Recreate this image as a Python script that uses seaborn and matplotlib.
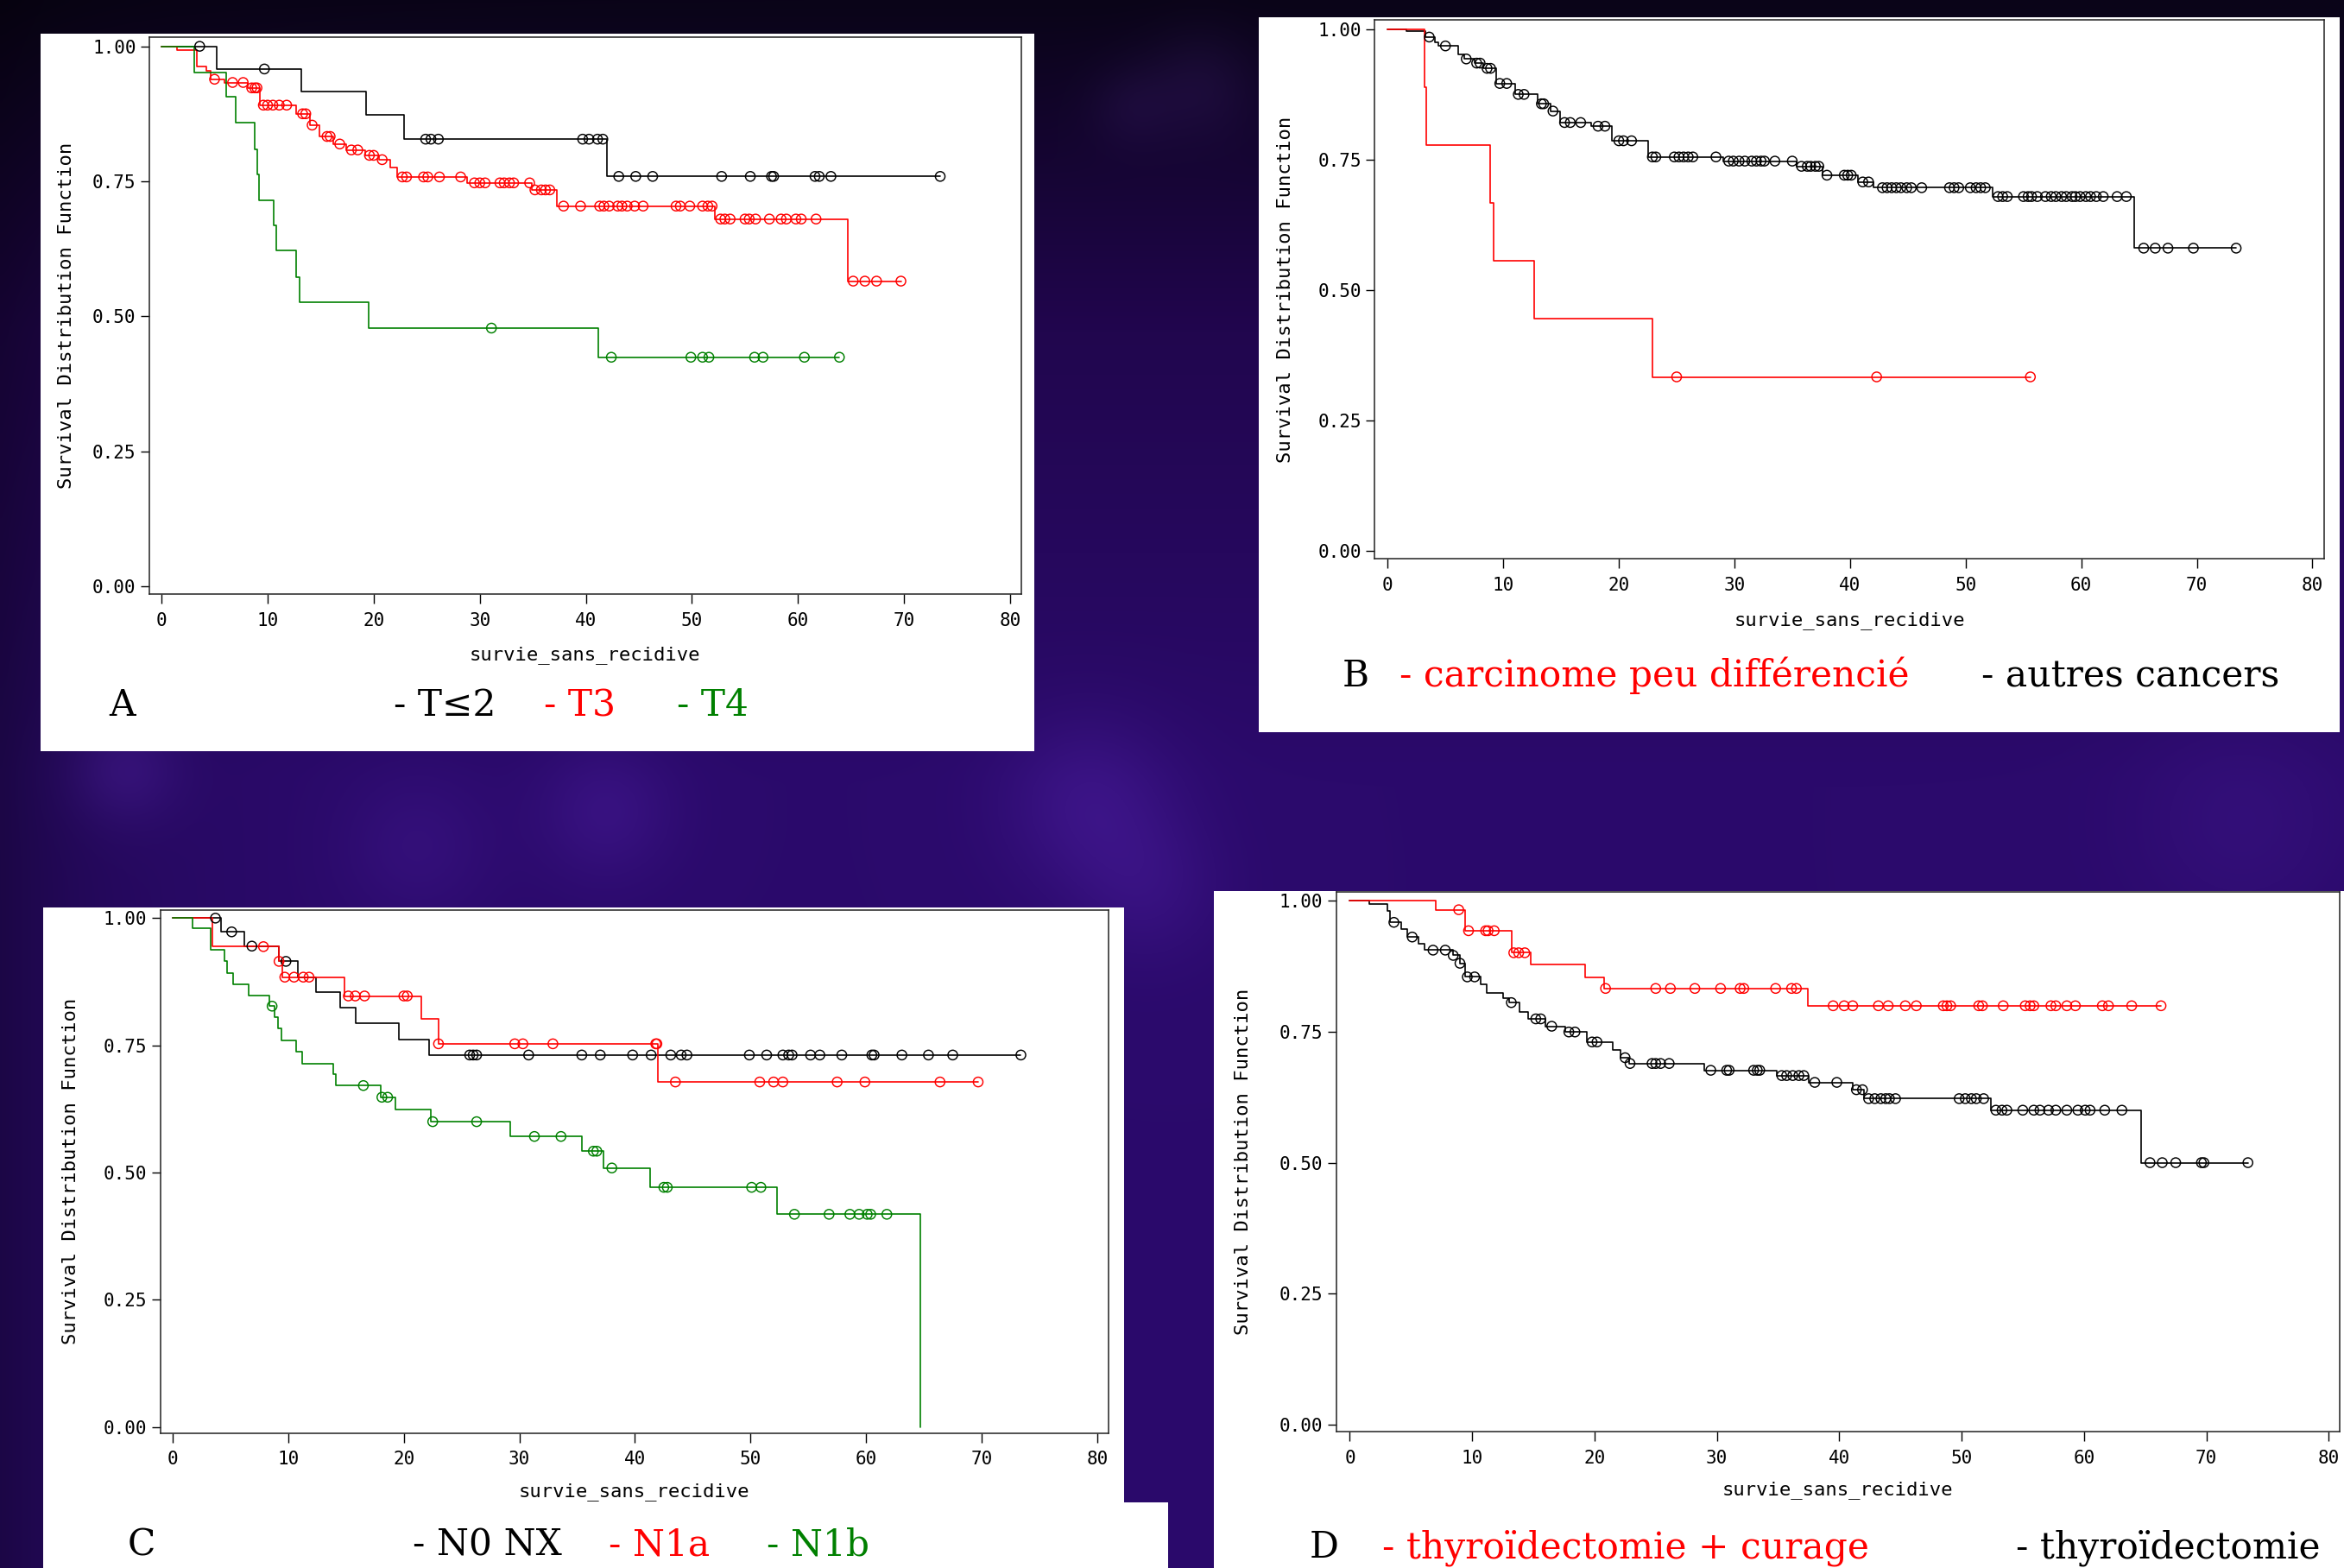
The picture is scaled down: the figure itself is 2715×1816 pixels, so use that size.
"""Four Kaplan-Meier panels (SAS style) on a purple slide background."""

import matplotlib
matplotlib.use("Agg")
import matplotlib.pyplot as plt
import numpy as np
import pandas as pd
import seaborn as sns
from matplotlib.patches import Rectangle

# === DATA ===
X_TICKS = [0, 10, 20, 30, 40, 50, 60, 70, 80]
Y_TICKS = [0.0, 0.25, 0.5, 0.75, 1.0]
Y_TICK_LABELS = ["0.00", "0.25", "0.50", "0.75", "1.00"]
X_LABEL = "survie_sans_recidive"
Y_LABEL = "Survival Distribution Function"

# Panel A: T stage
A_T2_TIMES = [5.2, 13.2, 19.3, 22.9, 42.0]
A_T2_SURV = [0.958, 0.917, 0.873, 0.828, 0.759]
A_T2_CENS = [3.6, 9.7, 24.9, 25.4, 26.1, 39.7, 40.3, 41.1, 41.6, 43.1, 44.7, 46.3,
             52.8, 55.5, 57.5, 57.7, 61.6, 62.0, 63.1, 73.4]

A_T3_TIMES = [1.5, 3.3, 4.25, 4.6, 5.9, 8.1, 9.3, 12.7, 14.0, 14.9, 16.2, 17.4, 19.2,
              20.5, 21.6, 22.2, 28.8, 34.9, 37.3, 52.2, 64.7]
A_T3_SURV = [0.993, 0.963, 0.955, 0.939, 0.933, 0.923, 0.891, 0.875, 0.854, 0.833, 0.819,
             0.808, 0.798, 0.790, 0.775, 0.758, 0.747, 0.734, 0.704, 0.680, 0.565]
A_T3_CENS = [5.0, 6.7, 7.7, 8.5, 8.8, 9.0, 9.6, 10.0, 10.5, 11.1, 11.8, 13.3, 13.6, 14.2,
             15.6, 15.9, 16.8, 17.9, 18.5, 19.6, 20.0, 20.8, 22.7, 23.1, 24.7, 25.1, 26.2,
             28.2, 29.5, 30.0, 30.5, 31.9, 32.3, 32.8, 33.2, 34.7, 35.2, 35.8, 36.2, 36.6,
             37.9, 39.5, 41.3, 41.7, 42.2, 43.0, 43.4, 43.9, 44.6, 45.4, 48.5, 48.9, 49.8,
             51.0, 51.5, 51.9, 52.7, 53.1, 53.6, 55.0, 55.4, 56.0, 57.3, 58.4, 58.9, 59.8,
             60.3, 61.7, 65.2, 66.3, 67.4, 69.7]

A_T4_TIMES = [3.1, 6.1, 7.0, 8.8, 9.0, 9.2, 10.6, 10.8, 12.7, 13.0, 19.5, 41.2]
A_T4_SURV = [0.952, 0.906, 0.859, 0.809, 0.762, 0.715, 0.669, 0.622, 0.572, 0.526, 0.478, 0.424]
A_T4_CENS = [31.1, 42.4, 49.9, 51.0, 51.6, 55.9, 56.7, 60.6, 63.9]

# Panel B: histology
B_PD_TIMES = [3.2, 3.35, 8.9, 9.2, 12.7, 22.9]
B_PD_SURV = [0.889, 0.778, 0.667, 0.556, 0.444, 0.333]
B_PD_CENS = [25.0, 42.3, 55.6]

B_OTHER_TIMES = [1.6, 3.3, 4.1, 4.4, 6.1, 6.6, 7.5, 8.3, 9.4, 11.0, 13.0, 14.1, 14.9, 17.6,
                 19.4, 22.5, 29.0, 35.4, 37.6, 40.7, 42.0, 52.3, 64.6]
B_OTHER_SURV = [0.997, 0.985, 0.975, 0.968, 0.951, 0.943, 0.935, 0.925, 0.896, 0.875, 0.857,
                0.843, 0.821, 0.814, 0.786, 0.755, 0.747, 0.737, 0.720, 0.707, 0.696, 0.679,
                0.580]
B_OTHER_CENS = [3.6, 5.0, 6.8, 7.7, 8.0, 8.6, 8.9, 9.7, 10.3, 11.3, 11.8, 13.3, 13.5, 14.3,
                15.3, 15.8, 16.7, 18.2, 18.8, 20.0, 20.4, 21.1, 22.9, 23.2, 24.8, 25.2, 25.6,
                26.0, 26.4, 28.4, 29.5, 29.9, 30.4, 30.9, 31.5, 31.9, 32.3, 32.6, 33.5, 35.0,
                35.8, 36.3, 36.6, 37.0, 37.3, 38.0, 39.5, 39.8, 40.1, 41.1, 41.6, 42.8, 43.2,
                43.6, 44.0, 44.4, 44.9, 45.3, 46.2, 48.6, 49.0, 49.4, 50.4, 50.9, 51.3, 51.7,
                52.8, 53.2, 53.6, 55.0, 55.4, 55.7, 56.2, 56.9, 57.4, 57.8, 58.3, 58.7, 59.2,
                59.5, 59.9, 60.4, 60.8, 61.3, 61.9, 63.1, 63.9, 65.4, 66.4, 67.5, 69.7, 73.4]

# Panel C: N stage
C_N0_TIMES = [4.2, 6.2, 9.2, 10.8, 12.4, 14.5, 15.8, 19.6, 22.2]
C_N0_SURV = [0.973, 0.945, 0.915, 0.884, 0.854, 0.824, 0.794, 0.762, 0.731]
C_N0_CENS = [3.7, 5.1, 6.85, 9.8, 25.7, 26.0, 26.3, 30.8, 35.4, 37.0, 39.8, 41.4, 43.1,
             44.0, 44.5, 49.9, 51.4, 52.8, 53.3, 53.6, 55.2, 56.0, 57.9, 60.5, 60.7, 63.1,
             65.4, 67.5, 73.4]

C_N1A_TIMES = [3.4, 9.2, 9.5, 14.9, 21.5, 23.0, 42.0]
C_N1A_SURV = [0.944, 0.915, 0.884, 0.847, 0.802, 0.753, 0.678]
C_N1A_CENS = [7.85, 9.2, 9.7, 10.5, 11.3, 11.8, 15.2, 15.8, 16.6, 20.0, 20.3, 23.0, 29.6,
              30.3, 32.9, 41.8, 41.9, 43.5, 50.8, 52.0, 52.8, 57.5, 59.9, 66.4, 69.7]

C_N1B_TIMES = [1.7, 3.3, 4.5, 4.7, 5.2, 6.6, 8.4, 8.8, 9.1, 9.4, 10.7, 11.2, 13.9, 14.1,
               18.0, 19.3, 22.3, 29.2, 35.4, 37.3, 41.3, 52.3, 64.7]
C_N1B_SURV = [0.981, 0.938, 0.915, 0.892, 0.870, 0.848, 0.827, 0.805, 0.783, 0.760, 0.737,
              0.714, 0.693, 0.671, 0.648, 0.624, 0.600, 0.571, 0.542, 0.509, 0.471, 0.418, 0.0]
C_N1B_CENS = [8.6, 16.5, 18.1, 18.6, 22.5, 26.3, 31.3, 33.6, 36.4, 36.7, 38.0, 42.5, 42.8,
              50.1, 50.9, 53.8, 56.8, 58.6, 59.4, 60.1, 60.4, 61.8]

# Panel D: surgery
D_CUR_TIMES = [7.0, 9.4, 13.2, 14.8, 19.2, 20.8, 37.4]
D_CUR_SURV = [0.982, 0.942, 0.900, 0.878, 0.853, 0.832, 0.799]
D_CUR_CENS = [8.9, 9.7, 11.1, 11.3, 11.8, 13.4, 13.8, 14.3, 20.9, 25.0, 26.2, 28.2, 30.3,
              31.9, 32.2, 34.8, 36.1, 36.5, 39.5, 40.4, 41.1, 43.2, 44.0, 45.4, 46.3, 48.5,
              48.8, 49.1, 51.4, 51.7, 53.4, 55.2, 55.6, 55.9, 57.3, 57.7, 58.6, 59.3, 61.5,
              62.0, 63.9, 66.3]

D_THY_TIMES = [1.6, 3.1, 3.3, 4.2, 4.7, 5.6, 6.1, 8.4, 9.0, 9.4, 10.7, 11.2, 12.5, 13.0,
               13.9, 14.6, 16.0, 17.6, 19.4, 21.5, 22.1, 22.8, 29.0, 34.9, 37.5, 41.1, 42.0,
               52.4, 64.7]
D_THY_SURV = [0.993, 0.980, 0.958, 0.945, 0.930, 0.918, 0.905, 0.895, 0.880, 0.854, 0.840,
              0.823, 0.814, 0.805, 0.788, 0.774, 0.760, 0.749, 0.730, 0.715, 0.700, 0.689,
              0.676, 0.666, 0.653, 0.639, 0.622, 0.600, 0.500]
D_THY_CENS = [3.6, 5.1, 6.8, 7.8, 8.45, 9.0, 9.6, 10.2, 13.2, 15.2, 15.6, 16.5, 17.9, 18.4,
              19.8, 20.2, 22.5, 22.9, 24.7, 25.0, 25.4, 26.1, 29.5, 30.8, 31.0, 33.0, 33.3,
              33.5, 35.3, 35.7, 36.2, 36.7, 37.1, 38.0, 39.8, 41.4, 41.9, 42.4, 42.9, 43.4,
              43.8, 44.1, 44.6, 49.8, 50.3, 50.8, 51.2, 51.8, 52.8, 53.3, 53.7, 55.0, 55.9,
              56.4, 57.1, 57.7, 58.6, 59.5, 60.1, 60.5, 61.7, 63.1, 65.4, 66.4, 67.5, 69.6,
              69.8, 73.4]

PANEL_LETTERS = ["A", "B", "C", "D"]
A_LABELS = ["- T≤2", "- T3", "- T4"]
B_LABELS = ["- carcinome peu différencié", "- autres cancers"]
C_LABELS = ["- N0 NX", "- N1a", "- N1b"]
D_LABELS = ["- thyroïdectomie + curage", "- thyroïdectomie"]

# === STYLE / LAYOUT ===
W, H = 2715, 1816
BLACK, RED, GREEN = "#000000", "#ff0000", "#008000"
SAS_FONT = "DejaVu Sans Mono"
SLIDE_FONT = "DejaVu Serif"

sns.set_theme(style="ticks")
plt.rcParams["font.family"] = [SAS_FONT, "DejaVu Sans"]


def km_table(times, surv, cens):
    """Step-curve points: start at (0, 1), extend flat to the last censored time."""
    t = [0.0] + list(times)
    s = [1.0] + list(surv)
    end = max(cens) if len(cens) else times[-1]
    if end > times[-1]:
        t.append(end)
        s.append(surv[-1])
    return pd.DataFrame({"t": t, "s": s})


def censor_table(times, surv, cens):
    """Censor marks sit on the survival level in force at that time."""
    idx = np.searchsorted(np.asarray(times), np.asarray(cens), side="right") - 1
    level = np.where(idx >= 0, np.asarray(surv)[np.clip(idx, 0, None)], 1.0)
    return pd.DataFrame({"t": cens, "s": level})


def background():
    h, w = 230, 344
    yy, xx = np.mgrid[0:h, 0:w].astype(float)
    ypx = yy / (h - 1) * H
    xpx = xx / (w - 1) * W
    top = np.array([10, 4, 24]) / 255
    mid = np.array([33, 6, 78]) / 255
    base = np.array([43, 10, 108]) / 255
    f1 = np.clip(ypx / 380, 0, 1)[..., None]
    f2 = np.clip((ypx - 380) / 520, 0, 1)[..., None]
    img = top + (mid - top) * f1 + (base - mid) * f2
    img = img * (1 - 0.35 * np.exp(-xpx / 140)[..., None])
    glows = [(1260, 930, 70, 0.6), (140, 890, 45, 0.6), (700, 940, 55, 0.5),
             (1390, 95, 45, 0.45), (1310, 120, 35, 0.35), (2600, 950, 90, 0.3),
             (1330, 1030, 60, 0.4), (480, 980, 60, 0.35)]
    for cx, cy, r, a in glows:
        g = np.exp(-((xpx - cx) ** 2 + (ypx - cy) ** 2) / (2 * r * r))[..., None]
        img = img + g * a * np.array([0.10, 0.06, 0.16])
    return np.clip(img, 0, 1)


def draw_panel(fig, frame, xlim, ylim, curves, ylab_off, xlab_off):
    left, top, right, bottom = frame
    ax = fig.add_axes([left / W, 1 - bottom / H, (right - left) / W, (bottom - top) / H])
    ax.set_facecolor("white")
    for times, surv, cens, color in curves:
        sns.lineplot(data=km_table(times, surv, cens), x="t", y="s", ax=ax, color=color,
                     linewidth=1.2, drawstyle="steps-post", estimator=None, sort=False,
                     legend=False)
        sns.scatterplot(data=censor_table(times, surv, cens), x="t", y="s", ax=ax,
                        marker="o", s=64, color=color, facecolor="none", edgecolor=color,
                        linewidth=1.05, legend=False, zorder=3)
    ax.set_xlim(*xlim)
    ax.set_ylim(*ylim)
    ax.set_xticks(X_TICKS)
    ax.set_yticks(Y_TICKS)
    ax.set_yticklabels(Y_TICK_LABELS)
    ax.set_xlabel("")
    ax.set_ylabel("")
    ax.tick_params(axis="x", direction="out", length=8, width=1, pad=7, labelsize=15,
                   colors="black")
    ax.tick_params(axis="y", direction="out", length=7, width=1, pad=4, labelsize=15,
                   colors="black")
    for spine in ax.spines.values():
        spine.set_visible(True)
        spine.set_color("#222222")
        spine.set_linewidth(1.1)
    width_px, height_px = right - left, bottom - top
    ax.text(-ylab_off / width_px, 0.5, Y_LABEL, transform=ax.transAxes, rotation=90,
            ha="center", va="center", fontsize=16, color="black")
    ax.text(0.5, -xlab_off / height_px, X_LABEL, transform=ax.transAxes,
            ha="center", va="center", fontsize=16, color="black")
    return ax


def slide_text(bg, x, y, text, color):
    bg.text(x, y, text, color=color, fontsize=30.5, family=[SLIDE_FONT, "DejaVu Sans"],
            ha="left", va="baseline")


def main():
    fig = plt.figure(figsize=(W / 100, H / 100), dpi=100)

    bg = fig.add_axes([0, 0, 1, 1], zorder=-1)
    bg.imshow(background(), extent=[0, W, H, 0], aspect="auto", interpolation="bicubic")
    bg.set_xlim(0, W)
    bg.set_ylim(H, 0)
    bg.axis("off")

    # white slide boxes behind each SAS graph
    for x0, y0, x1, y1 in [(47, 39, 1198, 870), (1458, 20, 2710, 848),
                           (50, 1051, 1302, 1816), (50, 1740, 1353, 1816),
                           (1406, 1032, 2715, 1816)]:
        bg.add_patch(Rectangle((x0, y0), x1 - x0, y1 - y0, facecolor="white",
                               edgecolor="none"))

    draw_panel(fig, (172.8, 43, 1183, 688), (-1.16, 81.05), (-0.0147, 1.017),
               [(A_T2_TIMES, A_T2_SURV, A_T2_CENS, BLACK),
                (A_T3_TIMES, A_T3_SURV, A_T3_CENS, RED),
                (A_T4_TIMES, A_T4_SURV, A_T4_CENS, GREEN)], 96, 71)
    draw_panel(fig, (1592, 23, 2692.4, 647), (-1.14, 81.04), (-0.0157, 1.018),
               [(B_OTHER_TIMES, B_OTHER_SURV, B_OTHER_CENS, BLACK),
                (B_PD_TIMES, B_PD_SURV, B_PD_CENS, RED)], 103, 72)
    draw_panel(fig, (185.6, 1053.9, 1284.2, 1659.6), (-1.08, 81.0), (-0.0117, 1.016),
               [(C_N0_TIMES, C_N0_SURV, C_N0_CENS, BLACK),
                (C_N1A_TIMES, C_N1A_SURV, C_N1A_CENS, RED),
                (C_N1B_TIMES, C_N1B_SURV, C_N1B_CENS, GREEN)], 104, 68)
    draw_panel(fig, (1547.6, 1032.6, 2710, 1658), (-1.12, 80.9), (-0.0125, 1.0166),
               [(D_THY_TIMES, D_THY_SURV, D_THY_CENS, BLACK),
                (D_CUR_TIMES, D_CUR_SURV, D_CUR_CENS, RED)], 108, 68)

    # slide captions under each graph
    slide_text(bg, 126, 829, PANEL_LETTERS[0], BLACK)
    for x, label, color in zip([456, 630, 784], A_LABELS, [BLACK, RED, GREEN]):
        slide_text(bg, x, 829, label, color)
    slide_text(bg, 1555, 795, PANEL_LETTERS[1], BLACK)
    for x, label, color in zip([1621, 2295], B_LABELS, [RED, BLACK]):
        slide_text(bg, x, 795, label, color)
    slide_text(bg, 148, 1801, PANEL_LETTERS[2], BLACK)
    for x, label, color in zip([478, 705, 888], C_LABELS, [BLACK, RED, GREEN]):
        slide_text(bg, x, 1801, label, color)
    slide_text(bg, 1517, 1804, PANEL_LETTERS[3], BLACK)
    for x, label, color in zip([1601, 2335], D_LABELS, [RED, BLACK]):
        slide_text(bg, x, 1804, label, color)

    fig.savefig("out.png", dpi=100)


if __name__ == "__main__":
    main()
